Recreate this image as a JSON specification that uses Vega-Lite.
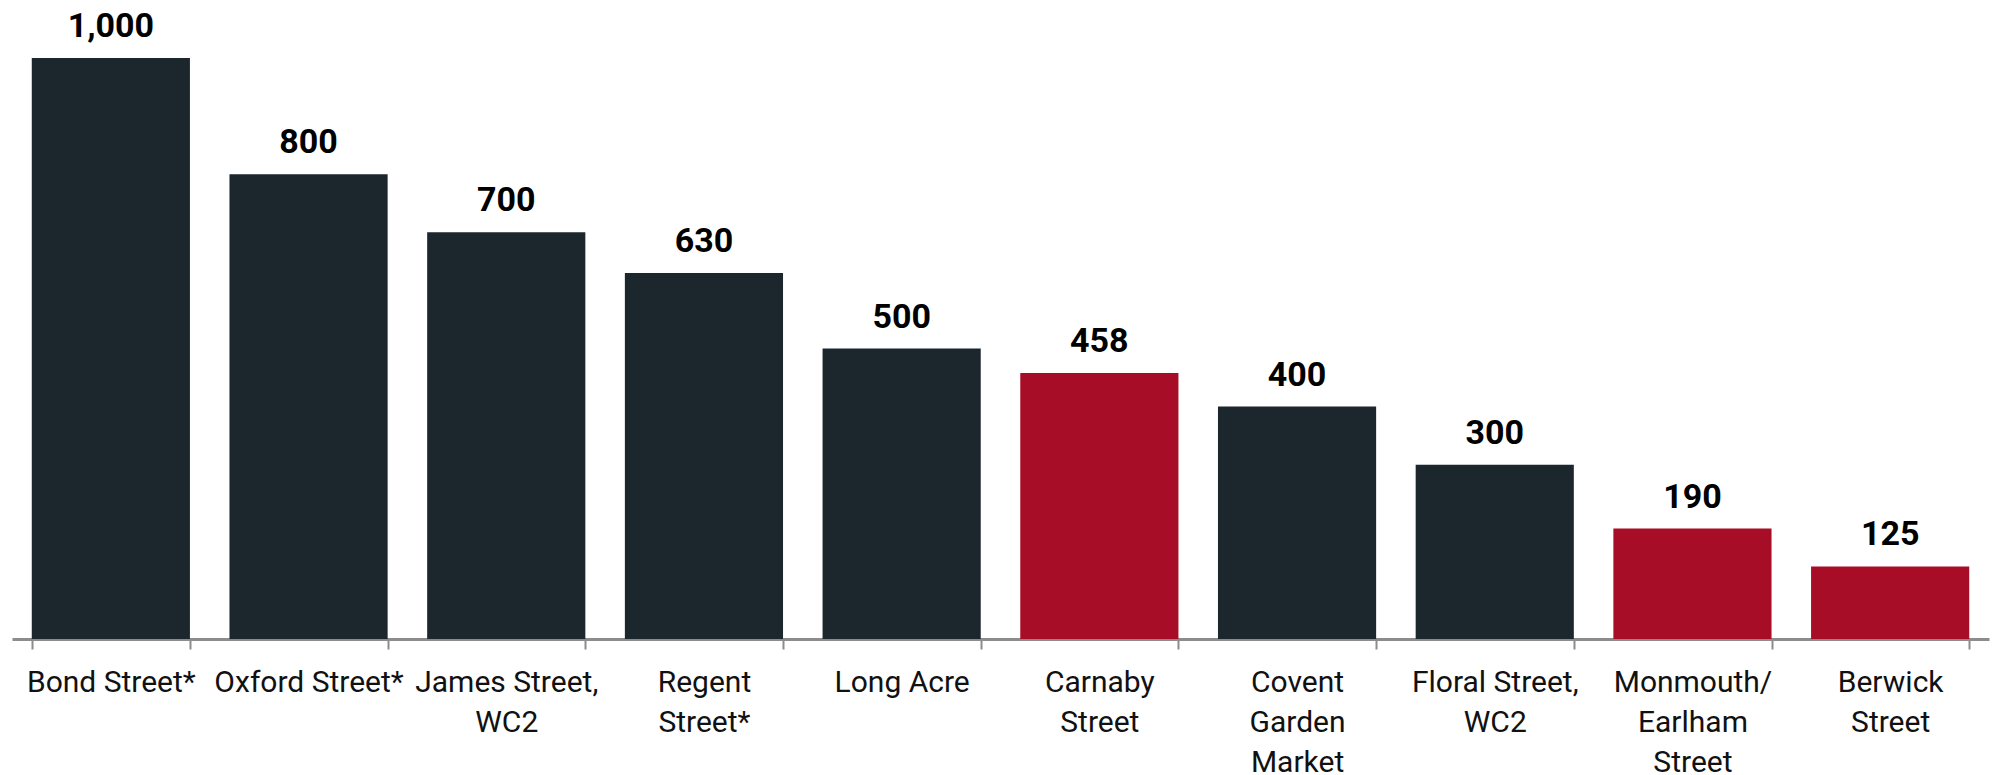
{
  "$schema": "https://vega.github.io/schema/vega-lite/v6.json",
  "autosize": {"type": "none"},
  "width": 1977,
  "height": 581,
  "padding": {"left": 12, "top": 58, "right": 6, "bottom": 136},
  "background": "white",
  "config": {"view": {"stroke": null}},
  "data": {
    "values": [
      {"street": "Bond Street*", "value": 1000, "group": "other"},
      {"street": "Oxford Street*", "value": 800, "group": "other"},
      {"street": "James Street,|WC2", "value": 700, "group": "other"},
      {"street": "Regent|Street*", "value": 630, "group": "other"},
      {"street": "Long Acre", "value": 500, "group": "other"},
      {"street": "Carnaby|Street", "value": 458, "group": "highlight"},
      {"street": "Covent|Garden|Market", "value": 400, "group": "other"},
      {"street": "Floral Street,|WC2", "value": 300, "group": "other"},
      {"street": "Monmouth/|Earlham|Street", "value": 190, "group": "highlight"},
      {"street": "Berwick|Street", "value": 125, "group": "highlight"}
    ]
  },
  "encoding": {
    "x": {
      "field": "street",
      "type": "nominal",
      "sort": null,
      "scale": {"paddingInner": 0.2, "paddingOuter": 0.1},
      "axis": {
        "title": null,
        "labelAngle": 0,
        "labelExpr": "isString(datum.value) ? split(datum.value, '|') : ''",
        "labelFont": "Roboto",
        "labelFontSize": 30,
        "labelColor": "#111111",
        "labelLineHeight": 40,
        "labelPadding": 18,
        "labelLimit": 0,
        "domainColor": "#8c8c8c",
        "domainWidth": 3,
        "tickColor": "#8c8c8c",
        "tickWidth": 2,
        "tickSize": 10,
        "tickBand": "extent",
        "labelOverlap": false
      }
    },
    "y": {
      "field": "value",
      "type": "quantitative",
      "scale": {"domain": [0, 1000], "nice": false},
      "axis": null
    }
  },
  "layer": [
    {
      "mark": {"type": "bar"},
      "encoding": {
        "color": {
          "field": "group",
          "type": "nominal",
          "scale": {"domain": ["other", "highlight"], "range": ["#1b262d", "#a80d27"]},
          "legend": null
        }
      }
    },
    {
      "mark": {"type": "text", "font": "Roboto", "fontWeight": "bold", "fontSize": 34, "baseline": "alphabetic", "dy": -21, "color": "#000000"},
      "encoding": {
        "text": {"field": "value", "type": "quantitative", "format": ","}
      }
    }
  ]
}
